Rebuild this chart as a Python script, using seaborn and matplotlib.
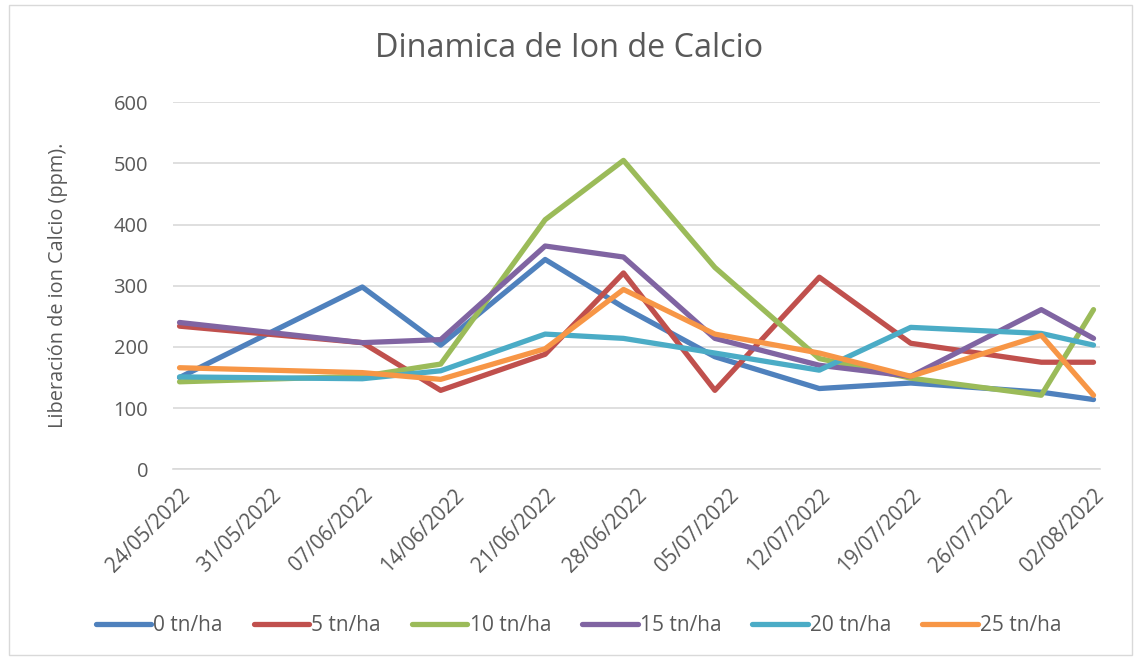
import pandas as pd
import numpy as np
import seaborn as sns
import matplotlib.pyplot as plt
from matplotlib.patches import Rectangle

# fechas de muestreo
fechas = ['2022-05-24', '2022-06-07', '2022-06-13', '2022-06-21', '2022-06-27',
          '2022-07-04', '2022-07-12', '2022-07-19', '2022-07-29', '2022-08-02']

dosis = ['0 tn/ha', '5 tn/ha', '10 tn/ha', '15 tn/ha', '20 tn/ha', '25 tn/ha']

calcio_0 = [150, 298, 203, 343, 265, 184, 132, 141, 126, 114]
calcio_5 = [234, 207, 129, 188, 321, 129, 314, 206, 175, 175]
calcio_10 = [143, 152, 172, 408, 505, 330, 181, 149, 121, 261]
calcio_15 = [240, 207, 212, 365, 347, 214, 170, 152, 261, 214]
calcio_20 = [151, 148, 161, 221, 214, 190, 162, 232, 222, 203]
calcio_25 = [166, 158, 147, 197, 294, 221, 190, 152, 219, 121]

colores = ['#4F81BD', '#C0504D', '#9BBB59', '#8064A2', '#4BACC6', '#F79646']

series = [calcio_0, calcio_5, calcio_10, calcio_15, calcio_20, calcio_25]
filas = []
for nombre, valores in zip(dosis, series):
    for f, v in zip(fechas, valores):
        filas.append({'Fecha': pd.Timestamp(f), 'Calcio': v, 'Dosis': nombre})
df = pd.DataFrame(filas)

sns.set_style('white')
plt.rcParams['font.family'] = ['Open Sans', 'DejaVu Sans']
gris = '#595959'
grosor = 3.8

fig = plt.figure(figsize=(11.39, 6.6), dpi=100)
ax = fig.add_axes([0.1519, 0.289, 0.8139, 0.556])

sns.lineplot(data=df, x='Fecha', y='Calcio', hue='Dosis', hue_order=dosis,
             palette=colores, linewidth=grosor, ax=ax, legend=False)

inicio = pd.Timestamp('2022-05-24')
fin = pd.Timestamp('2022-08-02')
medio_dia = pd.Timedelta(hours=12)
ax.set_xlim(inicio - medio_dia, fin + medio_dia)
ax.set_ylim(0, 600)
ax.set_yticks(range(0, 601, 100))
ticks = pd.date_range(inicio, fin, freq='7D')
ax.set_xticks(ticks)
ax.set_xticklabels([t.strftime('%d/%m/%Y') for t in ticks], rotation=45,
                   ha='right', rotation_mode='anchor', fontsize=14.8, color=gris)
ax.tick_params(axis='y', labelsize=14.5, labelcolor=gris, length=0, pad=18)
ax.tick_params(axis='x', length=0, pad=11)

ax.grid(axis='y', color='#D9D9D9', linewidth=1.2)
ax.set_axisbelow(True)
for lado in ['top', 'right', 'left']:
    ax.spines[lado].set_visible(False)
ax.spines['bottom'].set_color('#D9D9D9')
ax.spines['bottom'].set_linewidth(1.2)

ax.set_xlabel('')
ax.set_ylabel('Liberación de ion Calcio (ppm).', fontsize=14.3, color=gris, labelpad=33)
fig.text(0.5, 0.927, 'Dinamica de Ion de Calcio', ha='center', va='center',
         fontsize=23.3, color=gris)

manejadores = [plt.Line2D([0], [0], color=c, linewidth=grosor) for c in colores]
fig.legend(manejadores, dosis, loc='center', bbox_to_anchor=(0.508, 0.052), ncol=6,
           frameon=False, fontsize=15, labelcolor=gris, handlelength=2.65,
           handletextpad=0.1, columnspacing=1.5)

fig.patches.append(Rectangle((0.008, 0.008), 0.986, 0.984, transform=fig.transFigure,
                             fill=False, edgecolor='#D9D9D9', linewidth=1))

fig.savefig('out.png', dpi=100)
